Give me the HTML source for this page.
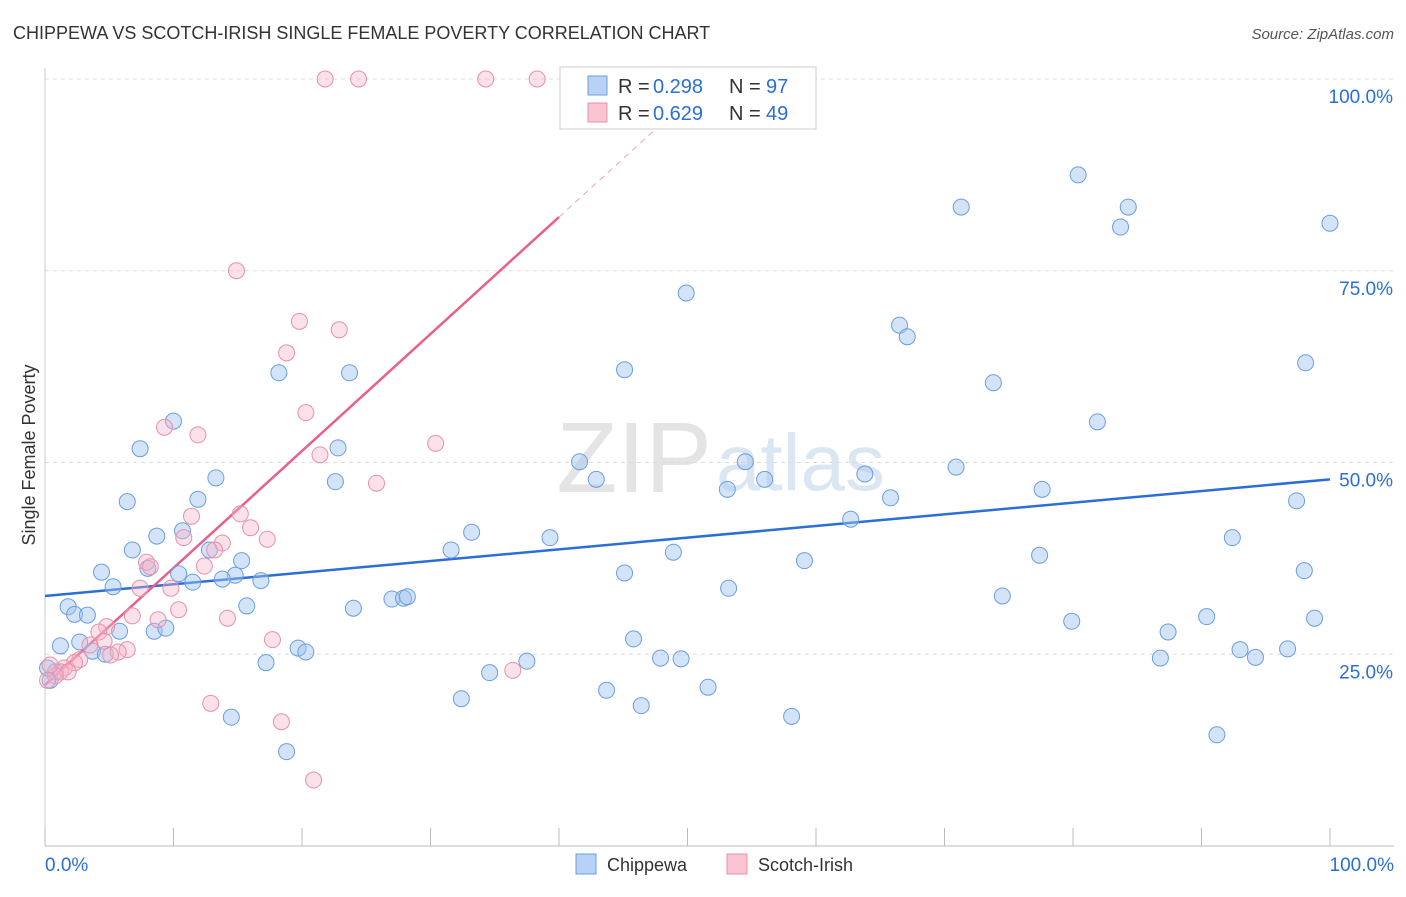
<!DOCTYPE html>
<html><head><meta charset="utf-8"><style>
body{margin:0;background:#fff;font-family:"Liberation Sans",sans-serif;}
svg text{font-family:"Liberation Sans",sans-serif;}
</style></head><body>
<svg width="1406" height="892">
<text x="13" y="39" font-size="18" fill="#333">CHIPPEWA VS SCOTCH-IRISH SINGLE FEMALE POVERTY CORRELATION CHART</text>
<text x="1394" y="39" font-size="15" fill="#555" font-style="italic" text-anchor="end">Source: ZipAtlas.com</text>
<text x="712" y="492" font-size="100" fill="#e4e4e4" font-family="Liberation Serif" text-anchor="end">ZIP</text>
<text x="716" y="490" font-size="80" fill="#dbe6f3">atlas</text>
<g id="grid"></g><g id="axes"></g><g id="lines"></g><g id="pts"></g>
<text x="35" y="455" font-size="18" fill="#333" transform="rotate(-90 35 455)" text-anchor="middle">Single Female Poverty</text>
<g>
<rect x="560" y="67" width="256" height="62" fill="#fff" stroke="#ccc"/>
<rect x="588" y="76" width="19" height="19" fill="#b8d2f3" stroke="#6a9ee0"/>
<rect x="588" y="103" width="19" height="19" fill="#f8c4d2" stroke="#e890a8"/>
<text x="618" y="93" font-size="20" fill="#333">R =</text><text x="653" y="93" font-size="20" fill="#2a6fd6">0.298</text>
<text x="729" y="93" font-size="20" fill="#333">N =</text><text x="766" y="93" font-size="20" fill="#2a6fd6">97</text>
<text x="618" y="120" font-size="20" fill="#333">R =</text><text x="653" y="120" font-size="20" fill="#2a6fd6">0.629</text>
<text x="729" y="120" font-size="20" fill="#333">N =</text><text x="766" y="120" font-size="20" fill="#2a6fd6">49</text>
</g>
<g>
<rect x="576" y="854" width="20" height="20" fill="#b8d2f3" stroke="#6a9ee0"/>
<text x="607" y="871" font-size="18" fill="#333">Chippewa</text>
<rect x="727" y="854" width="20" height="20" fill="#f8c4d2" stroke="#e890a8"/>
<text x="758" y="871" font-size="18" fill="#333">Scotch-Irish</text>
</g>
</svg>
<script>
const yTicks=[25,50,75,100];
const yTickLabels=["25.0%","50.0%","75.0%","100.0%"];
const xTickLabels=["0.0%","100.0%"];
const blueX=[80.4,71.3,84.3,83.7,100,49.9,66.5,67.1,45.1,18.2,23.7,73.8,98.1,10.0,7.4,81.9,22.8,41.6,54.5,70.9,13.3,63.8,42.9,22.6,56.0,53.1,77.6,6.4,11.9,65.8,97.4,62.7,10.7,33.2,8.7,39.3,92.4,6.8,31.6,48.9,12.8,15.3,77.4,59.1,4.4,8.0,10.4,45.1,14.8,98.0,13.8,16.8,11.5,5.3,53.2,74.5,27.0,27.9,28.2,1.8,15.7,24.0,2.3,3.3,79.9,90.4,98.8,87.4,5.8,8.5,9.4,45.8,1.2,2.7,19.7,20.3,3.7,93.0,96.7,4.7,94.2,47.9,49.5,86.8,37.5,17.2,34.6,51.6,43.7,32.4,46.4,14.5,58.1,18.8,91.2,0.4,0.8,0.2];
const blueY=[87.5,83.3,83.3,80.7,81.2,72.1,67.9,66.4,62.1,61.7,61.7,60.4,63.0,55.4,51.8,55.3,51.9,50.1,50.1,49.4,48.0,48.5,47.8,47.5,47.8,46.5,46.5,44.9,45.2,45.4,45.0,42.6,41.1,40.9,40.4,40.2,40.2,38.6,38.6,38.3,38.6,37.2,37.9,37.2,35.7,36.2,35.5,35.6,35.3,35.9,34.8,34.6,34.4,33.8,33.6,32.6,32.2,32.3,32.5,31.2,31.3,31.0,30.2,30.1,29.3,29.9,29.7,27.9,28.0,28.0,28.4,27.0,26.1,26.6,25.8,25.3,25.4,25.6,25.7,25.0,24.6,24.5,24.4,24.5,24.1,23.9,22.6,20.7,20.3,19.2,18.3,16.8,16.9,12.3,14.5,21.6,22.7,23.2];
const pinkX=[21.8,24.4,34.3,38.3,14.9,19.8,22.9,18.8,20.3,9.3,11.9,30.4,21.4,25.8,11.4,15.2,16.0,10.8,17.3,13.8,13.2,7.9,8.2,12.4,7.4,9.8,10.4,6.8,8.8,14.2,4.8,4.2,4.6,6.4,5.7,5.1,17.7,3.5,2.7,2.3,1.5,1.2,1.8,0.8,36.4,12.9,18.4,20.9,0.4,0.2];
const pinkY=[100,100,100,100,75.0,68.4,67.3,64.3,56.5,54.6,53.6,52.5,51.0,47.3,43.0,43.3,41.5,40.2,40.0,39.5,38.6,37.0,36.4,36.5,33.6,33.6,30.8,30.0,29.5,29.7,28.6,27.9,26.7,25.6,25.3,24.9,26.9,26.2,24.3,23.9,23.2,22.7,22.7,22.2,22.9,18.6,16.2,8.6,23.6,21.6];
const blueTrend=[32.6,47.8];
const pinkTrend=[21.0,82.0];
const NS="http://www.w3.org/2000/svg";
const X=v=>45+v*12.85, Y=v=>846-v*7.67;
function mk(t,a,p){const e=document.createElementNS(NS,t);for(const k in a)e.setAttribute(k,a[k]);p.appendChild(e);return e;}
const grid=document.getElementById('grid'),axes=document.getElementById('axes'),lines=document.getElementById('lines'),pts=document.getElementById('pts');
yTicks.forEach((t,i)=>{
 const l=mk('line',{x1:45,x2:1394,y1:Y(t),y2:Y(t),stroke:'#ddd','stroke-dasharray':'4 4'},grid);
 
 
 const tx=mk('text',{x:1393,y:Y(t)+24,'font-size':19,fill:'#2a6fd6','text-anchor':'end'},axes);
 tx.textContent=yTickLabels[i];
 
 
});
const ax=mk('line',{x1:45,x2:1394,y1:846,y2:846,stroke:'#bbb'},axes);


const ay=mk('line',{x1:45,x2:45,y1:68,y2:846,stroke:'#ccc'},axes);


for(let i=0;i<=10;i++){const tk=mk('line',{x1:X(i*10),x2:X(i*10),y1:828,y2:846,stroke:'#bbb'},axes);
 
 }
[[0,'start',45],[100,'end',1394]].forEach((d,i)=>{const t=mk('text',{x:d[2],y:871,'font-size':19,fill:'#2a6fd6','text-anchor':d[1]},axes);t.textContent=xTickLabels[i];
 
 });
const bl=mk('line',{x1:X(0),y1:Y(blueTrend[0]),x2:X(100),y2:Y(blueTrend[1]),stroke:'#2a6fd6','stroke-width':2.5},lines);


const sl=(pinkTrend[1]-pinkTrend[0])/40;
const pl=mk('line',{x1:X(0),y1:Y(pinkTrend[0]),x2:X(40),y2:Y(pinkTrend[1]),stroke:'#e8608a','stroke-width':2.5},lines);


const pd=mk('line',{x1:X(40),y1:Y(pinkTrend[1]),x2:X(48),y2:Y(pinkTrend[0]+sl*48),stroke:'#f0a0b8','stroke-width':1,'stroke-dasharray':'6 5'},lines);


blueX.forEach((x,i)=>{const c=mk('circle',{cx:X(x),cy:Y(blueY[i]),r:8,fill:'rgba(160,196,240,0.45)',stroke:'#6a9ee0','stroke-width':1},pts);
 
 });
pinkX.forEach((x,i)=>{const c=mk('circle',{cx:X(x),cy:Y(pinkY[i]),r:8,fill:'rgba(245,180,200,0.4)',stroke:'#e890a8','stroke-width':1},pts);
 
 });
</script>
</body></html>
